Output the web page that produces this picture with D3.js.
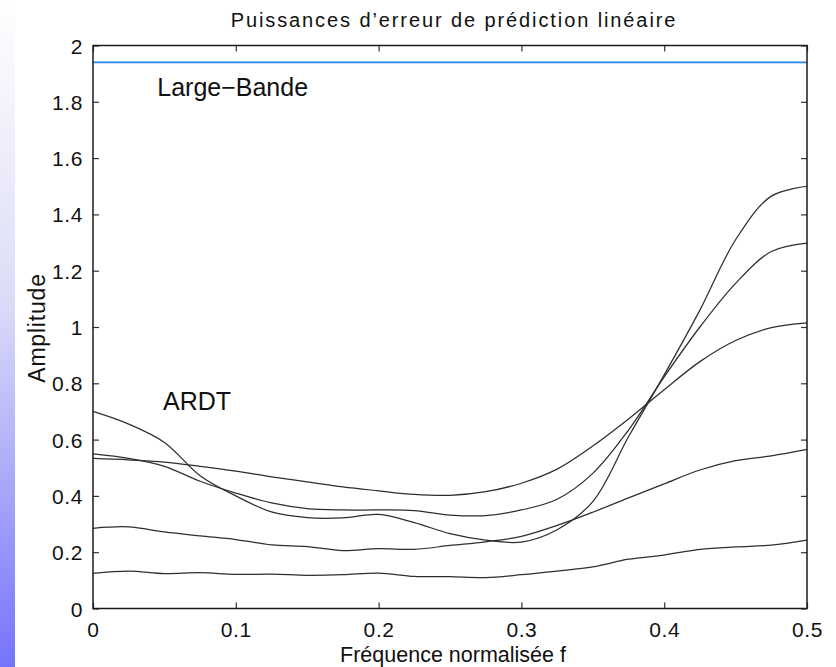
<!DOCTYPE html>
<html><head><meta charset="utf-8">
<script src="https://cdn.jsdelivr.net/npm/d3@7"></script>
<style>
html,body{margin:0;padding:0;background:#fff;}
svg{display:block;}
text{font-family:"Liberation Sans",Arial,Helvetica,sans-serif;fill:#111;}
</style></head>
<body>
<script>
// ---- data ----
const freqs = [0,0.025,0.05,0.075,0.1,0.125,0.15,0.175,0.2,0.225,0.25,0.275,0.3,0.325,0.35,0.375,0.4,0.425,0.45,0.475,0.5];
const seriesA = [0.70,0.655,0.59,0.472,0.40,0.343,0.323,0.322,0.334,0.305,0.266,0.243,0.236,0.28,0.38,0.61,0.83,1.06,1.31,1.465,1.50];
const seriesB = [0.549,0.533,0.505,0.452,0.41,0.375,0.355,0.35,0.35,0.348,0.332,0.33,0.35,0.388,0.48,0.634,0.823,1.00,1.155,1.268,1.298];
const seriesC = [0.533,0.528,0.52,0.505,0.488,0.468,0.45,0.432,0.418,0.405,0.402,0.415,0.445,0.495,0.577,0.673,0.777,0.877,0.952,0.998,1.015];
const seriesD = [0.285,0.29,0.272,0.258,0.245,0.226,0.22,0.206,0.213,0.21,0.224,0.237,0.256,0.295,0.342,0.393,0.443,0.492,0.525,0.542,0.565];
const seriesE = [0.125,0.133,0.124,0.127,0.121,0.122,0.118,0.12,0.126,0.114,0.113,0.11,0.12,0.133,0.148,0.175,0.19,0.21,0.219,0.225,0.243];
const wideband = 1.94;
const yTicks = [0,0.2,0.4,0.6,0.8,1,1.2,1.4,1.6,1.8,2];
const xTicks = [0,0.1,0.2,0.3,0.4,0.5];
const titleText = "Puissances d’erreur de prédiction linéaire";
const xLabel = "Fréquence normalisée f";
const yLabel = "Amplitude";
const annotations = [{text:"Large\u2212Bande", f:0.045, v:1.82},{text:"ARDT", f:0.049, v:0.705}];

// ---- layout ----
const W=836,H=667;
const L=93,R=807,T=45.5,B=608.5;
const svg=d3.select("body").append("svg").attr("width",W).attr("height",H);

const defs=svg.append("defs");
const grad=defs.append("linearGradient").attr("id","side").attr("x1",0).attr("y1",0).attr("x2",0).attr("y2",1);
grad.append("stop").attr("offset","0%").attr("stop-color","#ffffff");
grad.append("stop").attr("offset","45%").attr("stop-color","#dcdcf8");
grad.append("stop").attr("offset","100%").attr("stop-color","#7474fb");
svg.append("rect").attr("x",0).attr("y",0).attr("width",15).attr("height",H).attr("fill","url(#side)");

const x=d3.scaleLinear().domain([0,0.5]).range([L,R]);
const y=d3.scaleLinear().domain([0,2]).range([B,T]);

// series
const line=d3.line().x((d,i)=>x(freqs[i])).y(d=>y(d)).curve(d3.curveCatmullRom.alpha(0.5));
const g=svg.append("g");
[seriesA,seriesB,seriesC,seriesD,seriesE].forEach(s=>{
  g.append("path").attr("d",line(s)).attr("fill","none").attr("stroke","#2e2e2e").attr("stroke-width",1.25);
});
g.append("line").attr("x1",x(0)).attr("x2",x(0.5)).attr("y1",y(wideband)).attr("y2",y(wideband))
 .attr("stroke","#2288ee").attr("stroke-width",1.6);

// axes (inward ticks on all sides)
const tl=6;
const axB=svg.append("g").attr("transform",`translate(0,${B})`)
  .call(d3.axisBottom(x).tickValues(xTicks).tickSize(-tl).tickPadding(14).tickFormat(d=>d===0?"0":d3.format(".1f")(d)));
const axT=svg.append("g").attr("transform",`translate(0,${T})`)
  .call(d3.axisTop(x).tickValues(xTicks).tickSize(-tl).tickFormat(""));
const axL=svg.append("g").attr("transform",`translate(${L},0)`)
  .call(d3.axisLeft(y).tickValues(yTicks).tickSize(-tl).tickPadding(10).tickFormat(d=>d===0?"0":(Number.isInteger(d)?String(d):d3.format(".1f")(d))));
const axR=svg.append("g").attr("transform",`translate(${R},0)`)
  .call(d3.axisRight(y).tickValues(yTicks).tickSize(-tl).tickFormat(""));
[axB,axT,axL,axR].forEach(a=>{
  a.select(".domain").remove();
  a.selectAll(".tick line").attr("stroke","#333").attr("stroke-width",1.2);
  a.selectAll("text").attr("font-size",21).attr("letter-spacing","0.6px").attr("fill","#111").style("font-family","'Liberation Sans',Arial,sans-serif");
});
axL.selectAll(".tick text").attr("dy","0.36em");
// frame
svg.append("rect").attr("x",L).attr("y",T).attr("width",R-L).attr("height",B-T)
  .attr("fill","none").attr("stroke","#1a1a1a").attr("stroke-width",1.5);

// titles
svg.append("text").attr("x",(L+R)/2+4).attr("y",27).attr("text-anchor","middle").attr("font-size",20).attr("letter-spacing","1.9px").text(titleText);
svg.append("text").attr("x",(L+R)/2+3).attr("y",662).attr("text-anchor","middle").attr("font-size",21.5).text(xLabel);
svg.append("text").attr("transform",`translate(45,${(T+B)/2+1}) rotate(-90)`).attr("text-anchor","middle").attr("font-size",23).attr("letter-spacing","0.8px").text(yLabel);
annotations.forEach(a=>{
  svg.append("text").attr("x",x(a.f)).attr("y",y(a.v)).attr("font-size",25).text(a.text);
});
</script>
</body></html>
